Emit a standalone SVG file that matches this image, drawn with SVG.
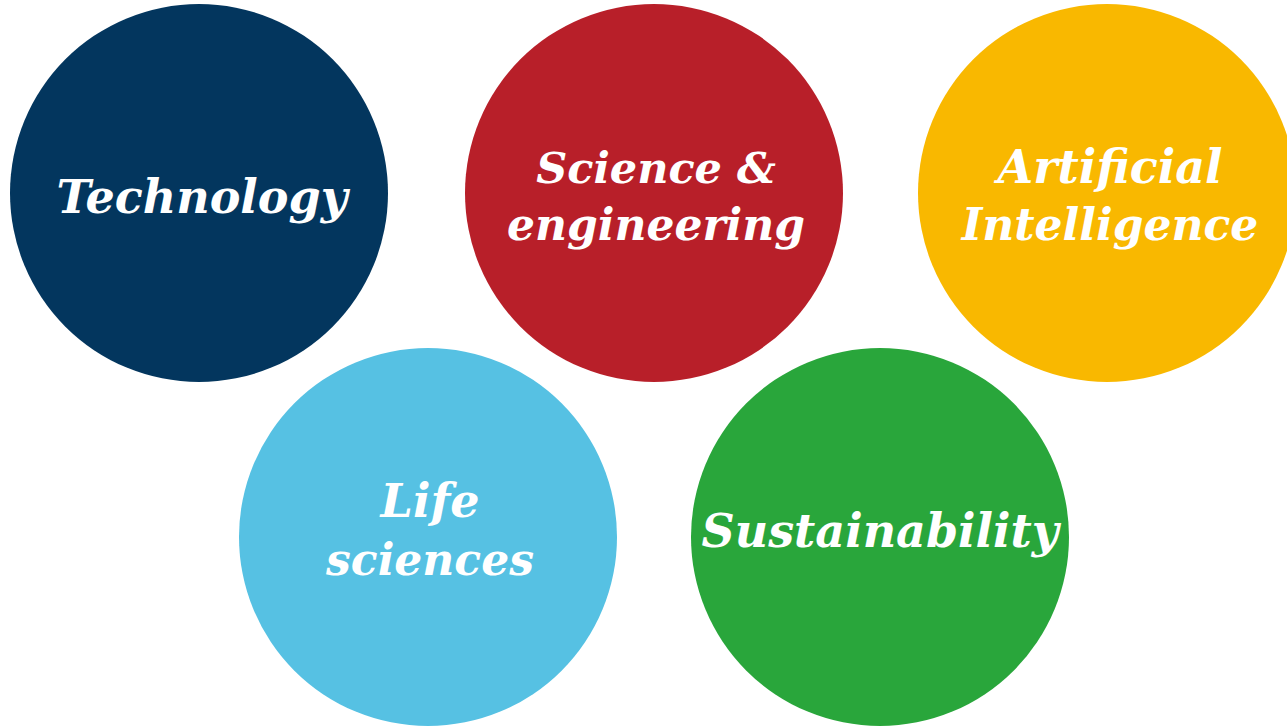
<svg xmlns="http://www.w3.org/2000/svg" width="1287" height="727" viewBox="0 0 1287 727">
  <style>
    .label { font-family: "DejaVu Serif", "Liberation Serif", serif; font-weight: bold; font-style: italic; font-size: 46px; fill: #ffffff; text-anchor: middle; }
    .sm { font-size: 44px; }
  </style>
  <rect width="1287" height="727" fill="#ffffff"/>
  <g id="technology">
    <circle cx="199" cy="193" r="189" fill="#03365E"/>
    <text class="label" x="202" y="213">Technology</text>
  </g>
  <g id="science-engineering">
    <circle cx="654" cy="193" r="189" fill="#B81F29"/>
    <text class="label" x="656" y="183" style="font-size:43px">Science &amp;</text>
    <text class="label sm" x="656" y="240">engineering</text>
  </g>
  <g id="artificial-intelligence">
    <circle cx="1107" cy="193" r="189" fill="#F9B800"/>
    <text class="label" x="1110" y="183">Artificial</text>
    <text class="label sm" x="1110" y="240">Intelligence</text>
  </g>
  <g id="life-sciences">
    <circle cx="428" cy="537" r="189" fill="#56C1E3"/>
    <text class="label" x="430" y="517">Life</text>
    <text class="label sm" x="430" y="575">sciences</text>
  </g>
  <g id="sustainability">
    <circle cx="880" cy="537" r="189" fill="#29A63B"/>
    <text class="label" x="880" y="547">Sustainability</text>
  </g>
  <g id="connectors"></g>
</svg>
